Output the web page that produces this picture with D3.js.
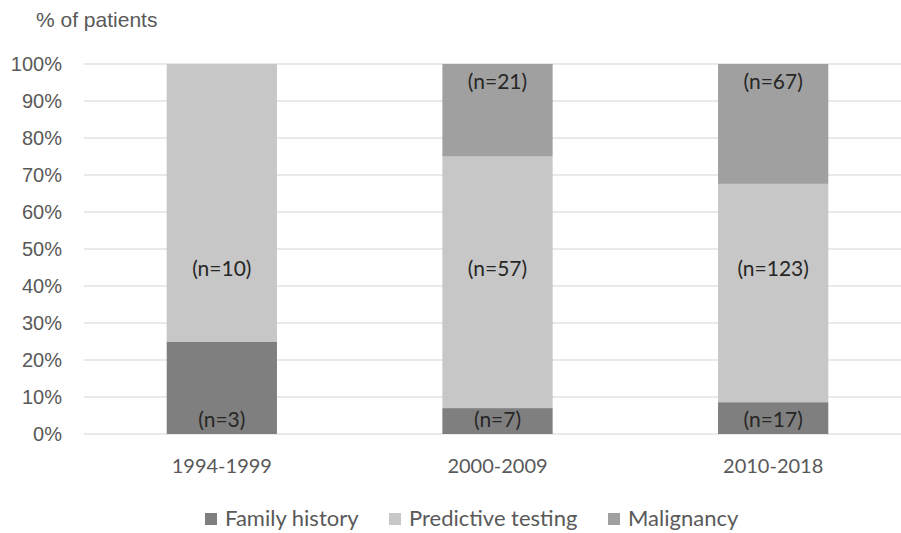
<!DOCTYPE html>
<html>
<head>
<meta charset="utf-8">
<script src="https://cdn.jsdelivr.net/npm/d3@7"></script>
<style>
  html, body { margin: 0; padding: 0; background: #fff; }
  svg { display: block; }
</style>
</head>
<body>
<svg id="chart" width="901" height="533"></svg>
<script>
// Time periods on the x axis
const periods = ["1994-1999", "2000-2009", "2010-2018"];
// Share of patients per reason for referral (%)
const familyHistoryPct = [25, 7, 8.6];
const predictivePct = [75, 68, 59];
const malignancyPct = [0, 25, 32.4];
// Patient counts shown on each segment
const familyHistoryN = [3, 7, 17];
const predictiveN = [10, 57, 123];
const malignancyN = [null, 21, 67];
// Axis ticks
const yTicks = [0, 10, 20, 30, 40, 50, 60, 70, 80, 90, 100];
const seriesNames = ["Family history", "Predictive testing", "Malignancy"];

const colors = ["#7f7f7f", "#c6c7c6", "#a0a0a0"];
const svg = d3.select("#chart");
const plot = { left: 84, right: 911, top: 64, bottom: 434 };

const rows = periods.map((p, i) => ({
  period: p,
  "Family history": familyHistoryPct[i],
  "Predictive testing": predictivePct[i],
  "Malignancy": malignancyPct[i],
  n: [familyHistoryN[i], predictiveN[i], malignancyN[i]]
}));

// One band per period; bars take 40% of each band, centred
const x = d3.scaleBand().domain(periods).range([plot.left, plot.right]).padding(0);
const barW = x.step() * 0.4;
const cx = p => x(p) + x.bandwidth() / 2;
const y = d3.scaleLinear().domain([0, 100]).range([plot.bottom, plot.top]);

// Gridlines
svg.append("g").selectAll("line").data(yTicks).join("line")
  .attr("x1", plot.left).attr("x2", 901)
  .attr("y1", d => y(d)).attr("y2", d => y(d))
  .attr("stroke", "#e3e3e3").attr("stroke-width", 1.5);

// Y tick labels
const yAxis = d3.axisLeft(y).tickValues(yTicks).tickFormat(d => d + "%").tickSize(0).tickPadding(0);
const yg = svg.append("g").attr("transform", "translate(62,0)").call(yAxis);
yg.select(".domain").remove();
yg.selectAll("text")
  .attr("fill", "#595959")
  .style("font-family", "'Liberation Sans', Arial, sans-serif")
  .style("font-size", "20px");

// Axis title
svg.append("text").attr("x", 36).attr("y", 27)
  .attr("fill", "#595959")
  .style("font-family", "'Liberation Sans', Arial, sans-serif")
  .style("font-size", "21px")
  .text("% of patients");

// Stacked bars
const stack = d3.stack().keys(seriesNames);
const series = stack(rows);

const layers = svg.append("g").selectAll("g").data(series).join("g")
  .attr("fill", (d, i) => colors[i]);
layers.selectAll("rect").data(d => d).join("rect")
  .attr("x", d => cx(d.data.period) - barW / 2)
  .attr("width", barW)
  .attr("y", d => y(d[1]))
  .attr("height", d => y(d[0]) - y(d[1]));

// Segment labels: bottom segment at its base, middle at a common height, top segment at its end
const labelFont = "Lato, 'Open Sans', sans-serif";
series.forEach((s, si) => {
  s.forEach(d => {
    const n = d.data.n[si];
    if (n == null) return;
    let ty;
    if (si === 0) ty = y(d[0]) - 7;
    else if (si === 1) ty = y(45.5) + 10;
    else ty = y(d[1]) + 25;
    svg.append("text")
      .attr("x", cx(d.data.period))
      .attr("y", ty)
      .attr("text-anchor", "middle")
      .attr("fill", "#262626")
      .style("font-family", labelFont)
      .style("font-size", "21px")
      .text(`(n=${n})`);
  });
});

// X axis labels
const xAxis = d3.axisBottom(x).tickSize(0).tickPadding(0);
const xg = svg.append("g").attr("transform", `translate(0,${plot.bottom + 39})`).call(xAxis);
xg.select(".domain").remove();
xg.selectAll("text")
  .attr("dy", 0)
  .attr("fill", "#595959")
  .style("font-family", labelFont)
  .style("font-size", "20px");

// Legend
const legendTextX = [225, 409, 628];
const lg = svg.append("g");
seriesNames.forEach((name, i) => {
  const g = lg.append("g").attr("transform", `translate(${legendTextX[i]},526)`);
  g.append("rect").attr("x", -20).attr("y", -13).attr("width", 12).attr("height", 12).attr("fill", colors[i]);
  g.append("text").attr("x", 0).attr("y", 0)
    .attr("fill", "#595959")
    .style("font-family", labelFont)
    .style("font-size", "22px")
    .text(name);
});
</script>
</body>
</html>
